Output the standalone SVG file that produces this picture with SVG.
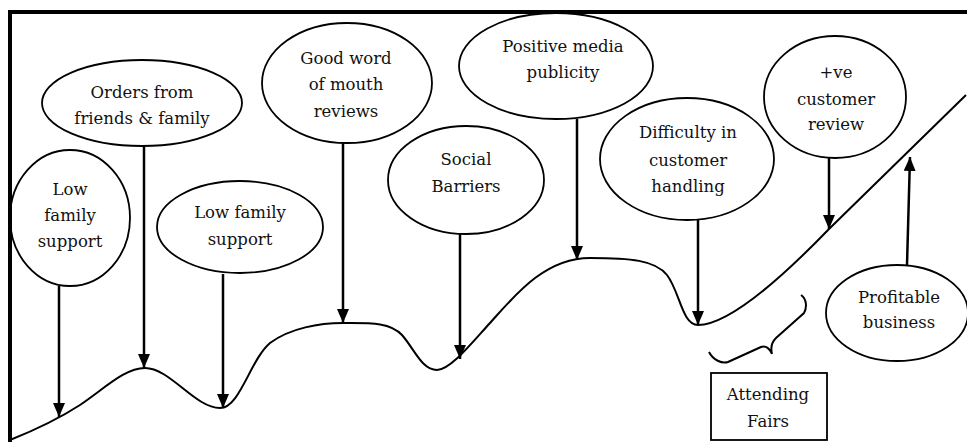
<svg xmlns="http://www.w3.org/2000/svg" width="967" height="442" viewBox="0 0 967 442">
<style>
  .node ellipse, .node rect { fill: none; stroke: #000; stroke-width: 1.8; }
  .t { font-family: 'DejaVu Serif', 'Liberation Serif', serif; font-size: 16.5px; fill: #111; text-anchor: middle; }
  .arr { stroke: #000; stroke-width: 2.5; fill: none; marker-end: url(#ah); }
  .curve { stroke: #000; stroke-width: 2; fill: none; }
</style>
<defs>
  <marker id="ah" markerUnits="userSpaceOnUse" markerWidth="14" markerHeight="12" refX="14" refY="6" orient="auto">
    <path d="M0,0 L14,6 L0,12 z" fill="#000"/>
  </marker>
</defs>
<rect width="967" height="442" fill="#fff"/>
<path d="M10,442 V12 H967" fill="none" stroke="#000" stroke-width="4"/>

<g id="curve">
  <path class="curve" d="M10,440 C40,428 60,418 80,405 C105,388 125,368 145,368 C170,368 195,408 220,408 C240,408 250,360 270,343 C290,328 320,323 343,323 C370,323 390,322 402,335 C415,350 422,370 437,370 C450,370 470,345 490,323 C515,295 545,258 590,258 C630,258 655,260 667,275 C680,292 682,325 698,325 C725,325 770,290 829,229 L966,95"/>
  <path d="M801,295 C807,299 807,308 804,313 L776,338 C771,343 771,350 772,354 C770,349 766,345 761,347 L728,362 C722,364 713,360 709,352" fill="none" stroke="#000" stroke-width="2"/>
</g>

<g id="connectors">
  <line class="arr" x1="59" y1="286" x2="59" y2="417"/>
  <line class="arr" x1="144" y1="146" x2="144" y2="368"/>
  <line class="arr" x1="223" y1="274" x2="223" y2="408"/>
  <line class="arr" x1="343" y1="143" x2="343" y2="323"/>
  <line class="arr" x1="460" y1="233" x2="460" y2="359"/>
  <line class="arr" x1="577" y1="119" x2="577" y2="260"/>
  <line class="arr" x1="698" y1="220" x2="698" y2="325"/>
  <line class="arr" x1="829" y1="158" x2="829" y2="229"/>
  <line class="arr" x1="907" y1="265" x2="910" y2="157"/>
</g>

<g id="n1" class="node">
  <ellipse cx="70" cy="218" rx="60" ry="68"/>
  <text class="t" x="70" y="195">Low</text>
  <text class="t" x="70" y="221">family</text>
  <text class="t" x="70" y="247">support</text>
</g>
<g id="n2" class="node">
  <ellipse cx="142" cy="103" rx="100" ry="43"/>
  <text class="t" x="142" y="98">Orders from</text>
  <text class="t" x="142" y="124">friends &amp; family</text>
</g>
<g id="n3" class="node">
  <ellipse cx="240" cy="227" rx="83" ry="46"/>
  <text class="t" x="240" y="218">Low family</text>
  <text class="t" x="240" y="245">support</text>
</g>
<g id="n4" class="node">
  <ellipse cx="347" cy="83" rx="85" ry="60"/>
  <text class="t" x="346" y="64">Good word</text>
  <text class="t" x="346" y="90">of mouth</text>
  <text class="t" x="346" y="117">reviews</text>
</g>
<g id="n5" class="node">
  <ellipse cx="466" cy="180" rx="78" ry="54"/>
  <text class="t" x="466" y="165">Social</text>
  <text class="t" x="466" y="192">Barriers</text>
</g>
<g id="n6" class="node">
  <ellipse cx="556" cy="66" rx="97" ry="53"/>
  <text class="t" x="563" y="52">Positive media</text>
  <text class="t" x="563" y="78">publicity</text>
</g>
<g id="n7" class="node">
  <ellipse cx="687" cy="159" rx="87" ry="61"/>
  <text class="t" x="688" y="138">Difficulty in</text>
  <text class="t" x="688" y="166">customer</text>
  <text class="t" x="688" y="192">handling</text>
</g>
<g id="n8" class="node">
  <ellipse cx="835" cy="97" rx="71" ry="61"/>
  <text class="t" x="836" y="78">+ve</text>
  <text class="t" x="836" y="105">customer</text>
  <text class="t" x="836" y="130">review</text>
</g>
<g id="n9" class="node">
  <ellipse cx="897" cy="313" rx="71" ry="48"/>
  <text class="t" x="899" y="303">Profitable</text>
  <text class="t" x="899" y="328">business</text>
</g>
<g id="n10" class="node">
  <rect x="711" y="373" width="116" height="67"/>
  <text class="t" x="768" y="400">Attending</text>
  <text class="t" x="768" y="427">Fairs</text>
</g>
</svg>
